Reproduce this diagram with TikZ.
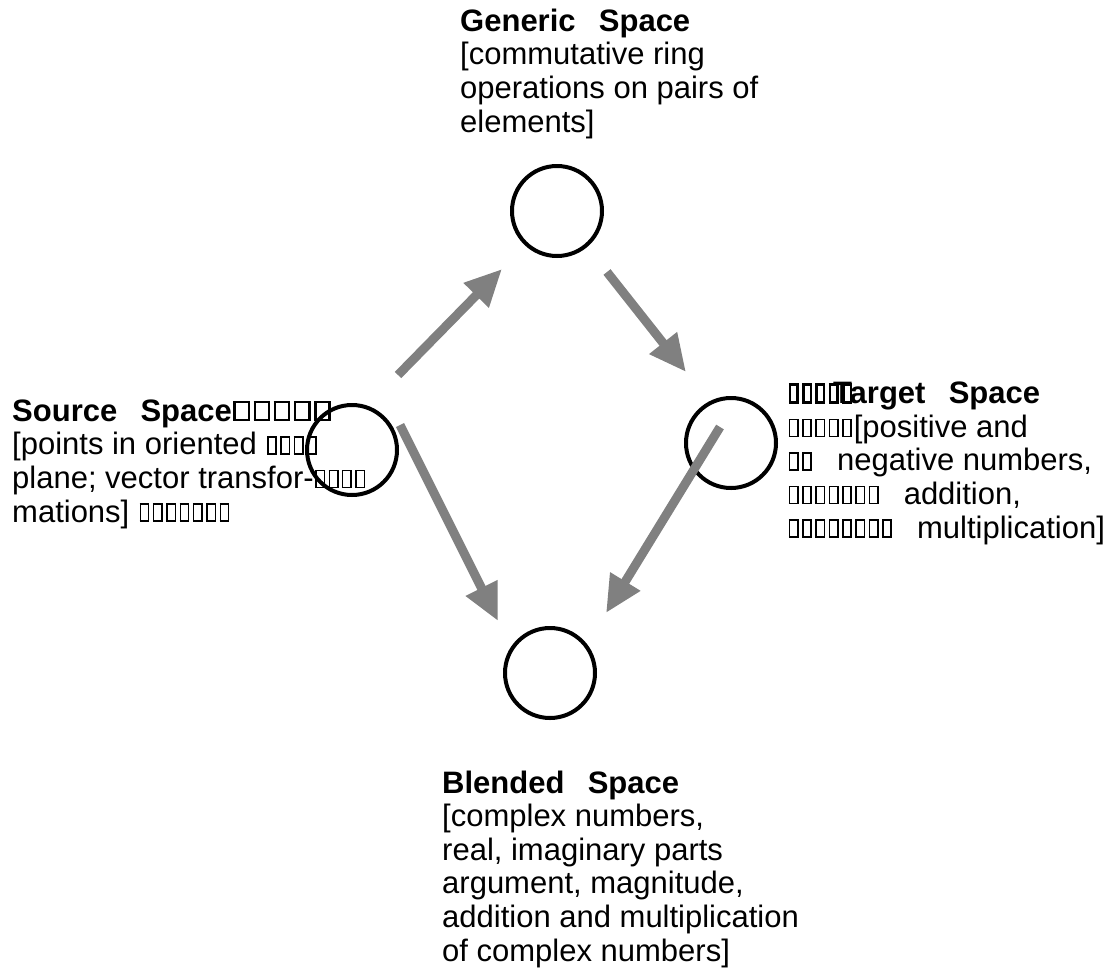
\documentclass[tikz,border=0pt]{standalone}
\usepackage{fontspec}
\setmainfont{Liberation Sans}
\usetikzlibrary{arrows.meta}

% empty box standing in for a glyph the font could not show:
% #1 stroke, #2 inner width
\newcommand\ndbox[2]{\kern0.05em\vbox{\hrule height#1\hbox{\vrule width#1 height0.5em\kern#2\vrule width#1}\hrule height#1}\kern0.06em}
\newcommand\nd{\ndbox{0.05em}{0.22em}}
\newcommand\bnd{\ndbox{0.08em}{0.16em}}
\newcommand\wnd{\ndbox{0.08em}{0.38em}}
\newcommand\gap{\hspace{0.75em}}
\definecolor{arrowgray}{RGB}{128,128,128}

\begin{document}
\begin{tikzpicture}[x=1pt,y=-1pt,
  space/.style={circle,draw=black,line width=4pt,minimum size=90pt,inner sep=0pt},
  % anchored at the baseline of the last line
  label/.style={anchor=base west,align=left,inner sep=0pt,
    font=\fontsize{31}{33.6}\selectfont},
  link/.style={draw=arrowgray,line width=9pt,
    -{Triangle[length=37pt,width=33pt]}}]
\useasboundingbox (0,0) rectangle (1116,967);

% the four spaces
\node[space] (generic) at (557,211) {};
\node[space] (source)  at (352,450) {};
\node[space] (target)  at (731,443) {};
\node[space] (blended) at (550,673) {};

% their descriptions
\node[label] (genericText) at (460,132)
  {\textbf{Generic\gap Space}\\
   {[}commutative ring\\
   operations on pairs of\\
   elements]};
\node[label] (sourceText) at (12,522)
  {\textbf{Source\gap Space\wnd\wnd\wnd\wnd\wnd}\\
   {[}points in oriented \nd\nd\nd\nd\\
   plane; vector transfor-\nd\nd\nd\nd\\
   mations] \nd\nd\nd\nd\nd\nd\nd};
\node[label] (targetText) at (787,538)
  {\bnd\bnd\bnd\bnd\bnd\kern-0.67em\textbf{Target\gap Space}\\
   \nd\nd\nd\nd\nd{[}positive and\\
   \nd\nd\gap negative numbers,\\
   \nd\nd\nd\nd\nd\nd\nd\gap addition,\\
   \nd\nd\nd\nd\nd\nd\nd\nd\gap multiplication]};
\node[label] (blendedText) at (442,961)
  {\textbf{Blended\gap Space}\\
   {[}complex numbers,\\
   real, imaginary parts\\
   argument, magnitude,\\
   addition and multiplication\\
   of complex numbers]};

% ends of the mapping arrows
\coordinate (s1) at (398,375);  \coordinate (g1) at (502,269);
\coordinate (g2) at (607,272);  \coordinate (t1) at (686,372);
\coordinate (s2) at (400,425);  \coordinate (b1) at (498,621);
\coordinate (t2) at (720,427);  \coordinate (b2) at (606,613);

\draw[link] (s1) -- (g1);
\draw[link] (g2) -- (t1);
\draw[link] (s2) -- (b1);
\draw[link] (t2) -- (b2);
\end{tikzpicture}
\end{document}
